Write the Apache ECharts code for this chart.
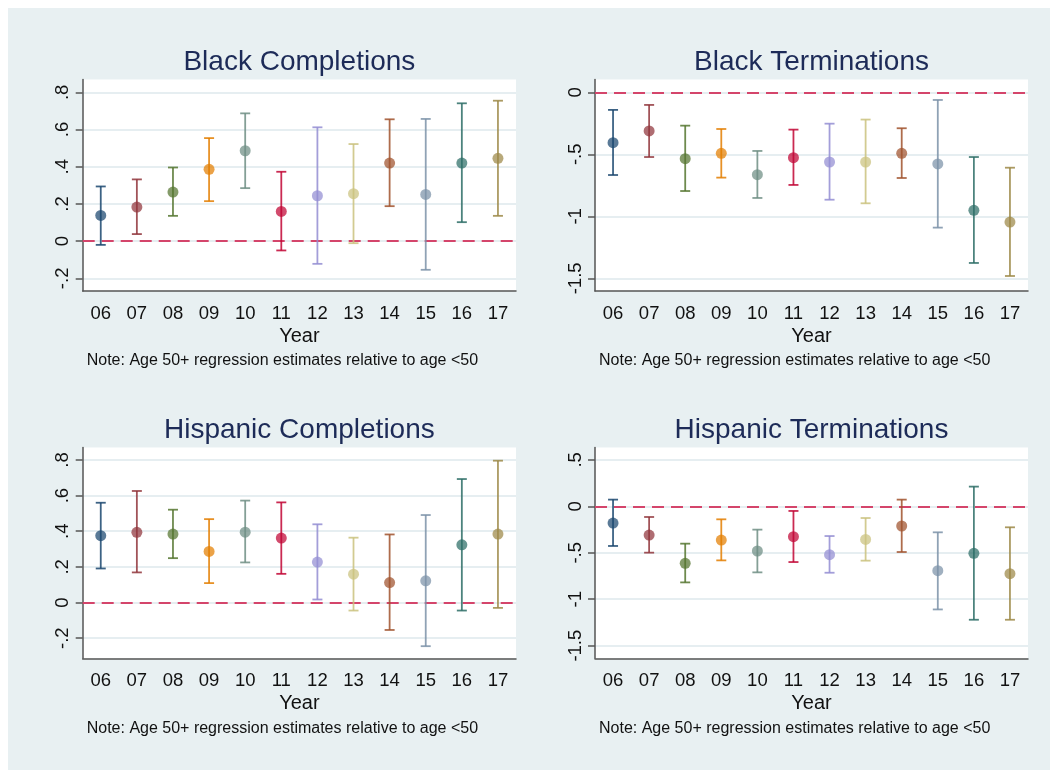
<!DOCTYPE html>
<html>
<head>
<meta charset="utf-8">
<script src="https://cdn.jsdelivr.net/npm/echarts@6/dist/echarts.min.js"></script>
<style>
  html, body { margin: 0; padding: 0; background: #ffffff; }
  #chart { position: absolute; left: 8px; top: 8px; width: 1042px; height: 762px; background: #e8f0f2; }
</style>
</head>
<body>
<div id="chart"></div>
<script>
// ---- Data ----
const years = ['06', '07', '08', '09', '10', '11', '12', '13', '14', '15', '16', '17'];

// Stata s2color palette, one colour per year
const yearColors = ['#1a476f', '#90353b', '#55752f', '#e37e00', '#6e8e84', '#c10534',
  '#938dd2', '#cac27e', '#a0522d', '#7b92a8', '#2d6d66', '#9c8847'];

const blackCompEst  = [0.138, 0.183, 0.264, 0.386, 0.486, 0.160, 0.244, 0.255, 0.420, 0.251, 0.420, 0.445];
const blackCompLow  = [-0.020, 0.038, 0.136, 0.215, 0.285, -0.050, -0.122, -0.011, 0.188, -0.154, 0.102, 0.136];
const blackCompHigh = [0.294, 0.332, 0.396, 0.554, 0.687, 0.373, 0.612, 0.522, 0.655, 0.657, 0.741, 0.755];

const blackTermEst  = [-0.406, -0.312, -0.535, -0.492, -0.664, -0.527, -0.562, -0.562, -0.492, -0.578, -0.952, -1.046];
const blackTermLow  = [-0.667, -0.522, -0.796, -0.688, -0.852, -0.747, -0.866, -0.895, -0.691, -1.091, -1.376, -1.481];
const blackTermHigh = [-0.142, -0.102, -0.269, -0.296, -0.473, -0.301, -0.253, -0.220, -0.290, -0.062, -0.522, -0.608];

const hispCompEst  = [0.375, 0.394, 0.384, 0.287, 0.395, 0.362, 0.227, 0.159, 0.112, 0.122, 0.324, 0.384];
const hispCompLow  = [0.191, 0.169, 0.249, 0.109, 0.225, 0.161, 0.017, -0.045, -0.154, -0.245, -0.045, -0.030];
const hispCompHigh = [0.560, 0.626, 0.521, 0.468, 0.572, 0.562, 0.439, 0.364, 0.382, 0.491, 0.693, 0.796];

const hispTermEst  = [-0.180, -0.309, -0.614, -0.363, -0.481, -0.327, -0.521, -0.356, -0.212, -0.693, -0.506, -0.725];
const hispTermLow  = [-0.427, -0.499, -0.819, -0.582, -0.711, -0.600, -0.715, -0.585, -0.492, -1.110, -1.221, -1.221];
const hispTermHigh = [0.072, -0.115, -0.402, -0.140, -0.251, -0.050, -0.320, -0.126, 0.072, -0.280, 0.212, -0.226];

const compTicks = [-0.2, 0, 0.2, 0.4, 0.6, 0.8];
const blackTermTicks = [-1.5, -1, -0.5, 0];
const hispTermTicks = [-1.5, -1, -0.5, 0, 0.5];

const panelTitles = ['Black Completions', 'Black Terminations', 'Hispanic Completions', 'Hispanic Terminations'];
const noteText = 'Note: Age 50+ regression estimates relative to age <50';

// ---- Panels ----
const panels = [
  { est: blackCompEst, low: blackCompLow, high: blackCompHigh, ticks: compTicks, min: -0.268, max: 0.869 },
  { est: blackTermEst, low: blackTermLow, high: blackTermHigh, ticks: blackTermTicks, min: -1.602, max: 0.103 },
  { est: hispCompEst, low: hispCompLow, high: hispCompHigh, ticks: compTicks, min: -0.313, max: 0.870 },
  { est: hispTermEst, low: hispTermLow, high: hispTermHigh, ticks: hispTermTicks, min: -1.636, max: 0.633 }
];

// plot boxes (container coords)
const boxes = [
  { left: 74.7, top: 71.5, width: 433.3, height: 211.5 },
  { left: 587, top: 71.5, width: 433, height: 211.5 },
  { left: 74.7, top: 439.5, width: 433.3, height: 210.8 },
  { left: 587, top: 439.5, width: 433, height: 210.8 }
];

const FONT = '"Liberation Sans", Arial, Helvetica, sans-serif';
const axisColor = '#555555';
const textColor = '#111111';

// Stata style tick labels: .2, -.5, 0
function stataLabel(v) {
  const s = String(+(+v).toFixed(2));
  return s.replace(/^(-?)0\./, '$1.');
}

function renderBar(params, api) {
  const x = api.value(0);
  const lo = api.coord([x, api.value(1)]);
  const hi = api.coord([x, api.value(2)]);
  const style = { stroke: yearColors[params.dataIndex], lineWidth: 1.8, opacity: 0.85 };
  const half = 5;
  return {
    type: 'group',
    children: [
      { type: 'line', shape: { x1: lo[0], y1: lo[1], x2: hi[0], y2: hi[1] }, style },
      { type: 'line', shape: { x1: lo[0] - half, y1: lo[1], x2: lo[0] + half, y2: lo[1] }, style },
      { type: 'line', shape: { x1: hi[0] - half, y1: hi[1], x2: hi[0] + half, y2: hi[1] }, style }
    ]
  };
}

const titles = [];
const grids = [];
const xAxes = [];
const yAxes = [];
const series = [];

panels.forEach((p, i) => {
  const b = boxes[i];
  titles.push({
    text: panelTitles[i],
    left: b.left + b.width / 2,
    top: b.top - 17.5,
    textAlign: 'center',
    textVerticalAlign: 'middle',
    padding: 0,
    textStyle: { fontFamily: FONT, fontSize: 28, fontWeight: 'normal', color: '#1d2b58' }
  });
  titles.push({
    text: noteText,
    left: b.left + 4,
    top: b.top + b.height + 70,
    textAlign: 'left',
    textVerticalAlign: 'middle',
    padding: 0,
    textStyle: { fontFamily: FONT, fontSize: 16, fontWeight: 'normal', color: textColor }
  });

  grids.push({
    left: b.left, top: b.top, width: b.width, height: b.height,
    show: true, backgroundColor: '#ffffff', borderWidth: 0
  });

  xAxes.push({
    gridIndex: i,
    type: 'category',
    data: years,
    boundaryGap: true,
    name: 'Year',
    nameLocation: 'middle',
    nameGap: 35,
    nameTextStyle: { fontFamily: FONT, fontSize: 20, color: textColor },
    axisLine: { onZero: false, lineStyle: { color: axisColor, width: 1.5 } },
    axisTick: { alignWithLabel: true, length: 7, lineStyle: { color: axisColor, width: 1.5 } },
    axisLabel: { fontFamily: FONT, fontSize: 18.5, color: textColor, margin: 13, interval: 0 },
    splitLine: { show: false }
  });

  yAxes.push({
    gridIndex: i,
    type: 'value',
    min: p.min,
    max: p.max,
    axisLine: { show: true, lineStyle: { color: axisColor, width: 1.5 } },
    axisTick: { show: true, length: 7, customValues: p.ticks, lineStyle: { color: axisColor, width: 1.5 } },
    axisLabel: {
      fontFamily: FONT, fontSize: 18.5, color: textColor, rotate: 90, margin: 10,
      customValues: p.ticks, formatter: stataLabel
    },
    splitLine: { show: true, lineStyle: { color: '#e6eef1', width: 2 } }
  });

  series.push({
    type: 'custom',
    xAxisIndex: i,
    yAxisIndex: i,
    renderItem: renderBar,
    encode: { x: 0, y: [1, 2] },
    data: years.map((y, k) => [k, p.low[k], p.high[k]]),
    z: 3,
    markLine: {
      silent: true,
      symbol: 'none',
      z: 1,
      label: { show: false },
      lineStyle: { color: '#d4456b', type: [12, 7], width: 2 },
      data: [{ yAxis: 0 }]
    }
  });

  series.push({
    type: 'scatter',
    xAxisIndex: i,
    yAxisIndex: i,
    symbolSize: 11,
    z: 4,
    data: p.est.map((v, k) => ({ value: [k, v], itemStyle: { color: yearColors[k], opacity: 0.72 } }))
  });
});

const chart = echarts.init(document.getElementById('chart'));
chart.setOption({
  animation: false,
  backgroundColor: '#e8f0f2',
  title: titles,
  grid: grids,
  xAxis: xAxes,
  yAxis: yAxes,
  series: series
});
window.addEventListener('resize', () => chart.resize());
</script>
</body>
</html>
